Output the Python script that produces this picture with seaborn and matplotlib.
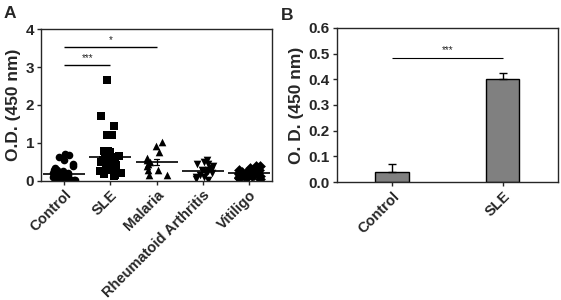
import warnings
import numpy as np
import pandas as pd
import seaborn as sns
import matplotlib.pyplot as plt

warnings.filterwarnings('ignore')
np.random.seed(3)

# Panel A - individual O.D. values per group
groups = ['Control', 'SLE', 'Malaria', 'Rheumatoid Arthritis', 'Vitiligo']
group_markers = ['o', 's', '^', 'v', 'D']
control = [0.72, 0.68, 0.62, 0.55, 0.45, 0.4, 0.35, 0.3, 0.3, 0.25, 0.22,
           0.2, 0.2, 0.15, 0.15, 0.12, 0.1, 0.1, 0.1, 0.08, 0.05, 0.05, 0.05,
           0.05, 0.03, 0.02, 0.02, 0.02, 0.02, 0.02, 0.02, 0.02, 0.0, 0.0]
sle = [2.65, 1.7, 1.45, 1.22, 1.22, 0.8, 0.78, 0.75, 0.72, 0.7, 0.68, 0.65,
       0.62, 0.6, 0.58, 0.56, 0.55, 0.52, 0.5, 0.5, 0.48, 0.46, 0.45, 0.43,
       0.42, 0.4, 0.38, 0.36, 0.35, 0.33, 0.3, 0.28, 0.25, 0.22, 0.2, 0.18,
       0.15, 0.12]
malaria = [1.02, 0.93, 0.75, 0.6, 0.55, 0.5, 0.45, 0.4, 0.3, 0.3, 0.15, 0.15]
ra = [0.55, 0.5, 0.45, 0.45, 0.4, 0.35, 0.3, 0.3, 0.28, 0.25, 0.22, 0.2,
      0.2, 0.15, 0.1, 0.1, 0.05, 0.02]
vitiligo = [0.4, 0.38, 0.35, 0.33, 0.3, 0.3, 0.28, 0.27, 0.25, 0.25, 0.24,
            0.22, 0.22, 0.2, 0.2, 0.2, 0.18, 0.18, 0.17, 0.15, 0.15, 0.14,
            0.13, 0.12, 0.12, 0.1, 0.1, 0.08, 0.07, 0.05]

# Panel B - mean O.D. with SEM
b_groups = ['Control', 'SLE']
b_means = [0.04, 0.40]
b_sem = [0.03, 0.025]

df = pd.concat([pd.DataFrame({'group': g, 'od': v})
                for g, v in zip(groups, [control, sle, malaria, ra, vitiligo])])
df_b = pd.DataFrame({'group': b_groups, 'od': b_means})

sns.set_style('ticks')
plt.rcParams['font.family'] = ['Liberation Sans', 'DejaVu Sans']
plt.rcParams['font.weight'] = 'bold'
plt.rcParams['axes.labelweight'] = 'bold'

fig = plt.figure(figsize=(5.61, 3.0), dpi=100)
ax1 = fig.add_axes([0.073, 0.397, 0.412, 0.506])
ax2 = fig.add_axes([0.600, 0.393, 0.395, 0.514])

# ---- Panel A ----
for g, m in zip(groups, group_markers):
    sns.stripplot(data=df[df['group'] == g], x='group', y='od', order=groups,
                  marker=m, color='black', size=5.5, jitter=0.25, ax=ax1, zorder=2)
sns.pointplot(data=df, x='group', y='od', order=groups, errorbar='se',
              linestyle='none', marker='_', markersize=30, markeredgewidth=1.2,
              color='black', capsize=0.12, err_kws={'linewidth': 0.9}, ax=ax1)
ax1.set_xlim(-0.5, 4.5)
ax1.set_ylim(0, 4)
ax1.set_yticks([0, 1, 2, 3, 4])
ax1.set_xlabel('')
ax1.set_ylabel('O.D. (450 nm)', fontsize=12.5, fontweight='bold', labelpad=3)
ax1.hlines(3.05, 0, 1, color='black', lw=1)
ax1.text(0.5, 3.1, '***', ha='center', va='bottom', fontsize=7, fontweight='normal')
ax1.hlines(3.52, 0, 2, color='black', lw=1)
ax1.text(1.0, 3.57, '*', ha='center', va='bottom', fontsize=7, fontweight='normal')
ax1.text(-0.16, 1.07, 'A', transform=ax1.transAxes, fontsize=12.5, fontweight='bold')

# ---- Panel B ----
sns.barplot(data=df_b, x='group', y='od', order=b_groups, color='#808080',
            saturation=1, width=0.3, edgecolor='black', linewidth=1, ax=ax2)
ax2.errorbar(range(len(b_groups)), b_means, yerr=[[0] * len(b_sem), b_sem],
             fmt='none', ecolor='black', elinewidth=1, capsize=3, capthick=1)
ax2.set_xlim(-0.5, 1.5)
ax2.set_ylim(0, 0.6)
ax2.set_yticks(np.arange(0, 0.61, 0.1))
ax2.yaxis.set_major_formatter(plt.FormatStrFormatter('%.1f'))
ax2.set_xlabel('')
ax2.set_ylabel('O. D. (450 nm)', fontsize=12.5, fontweight='bold', labelpad=3)
ax2.hlines(0.482, 0, 1, color='black', lw=0.8)
ax2.text(0.5, 0.495, '***', ha='center', va='bottom', fontsize=7, fontweight='normal')
ax2.text(-0.25, 1.05, 'B', transform=ax2.transAxes, fontsize=12.5, fontweight='bold')

for ax in (ax1, ax2):
    for s in ax.spines.values():
        s.set_visible(True)
        s.set_linewidth(1)
    ax.tick_params(axis='y', direction='out', length=3, width=1,
                   labelsize=11, pad=2)
    ax.tick_params(axis='x', direction='out', length=3, width=1,
                   labelsize=10.5, pad=2)
    for lab in ax.get_yticklabels():
        lab.set_fontweight('bold')
    for lab in ax.get_xticklabels():
        lab.set_fontweight('bold')
        lab.set_rotation(45)
        lab.set_ha('right')
        lab.set_rotation_mode('anchor')

fig.savefig('out.png', dpi=100)
